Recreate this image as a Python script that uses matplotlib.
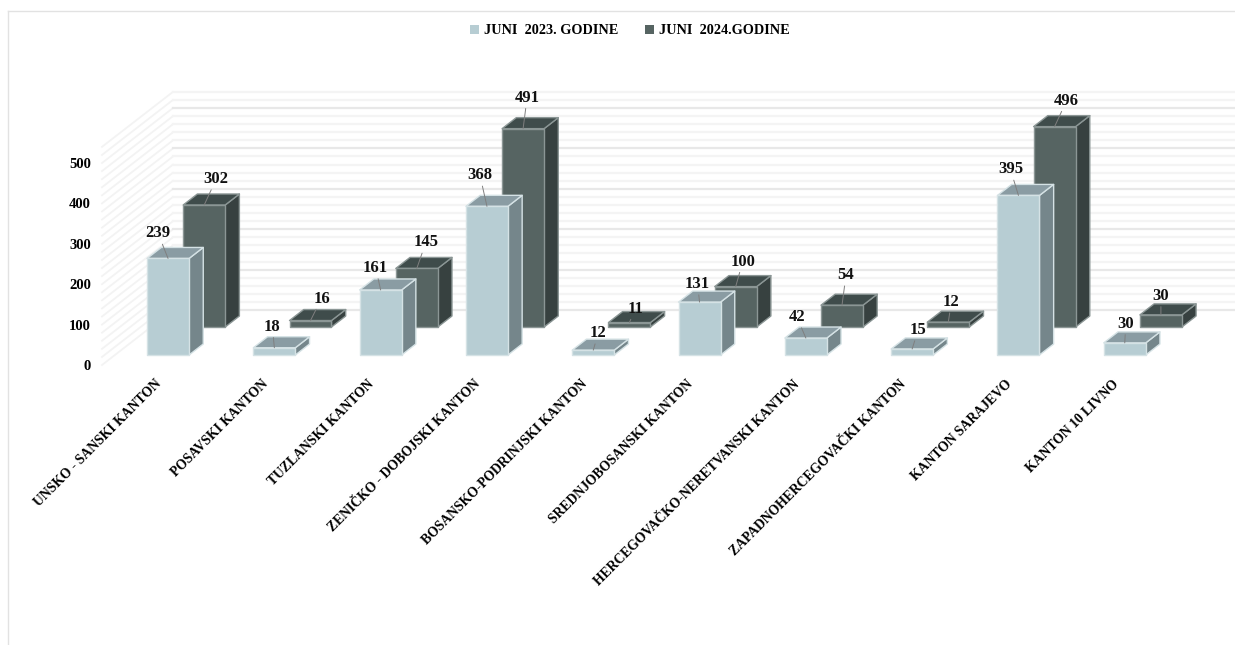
import matplotlib
matplotlib.use('Agg')
import matplotlib.pyplot as plt
from matplotlib.patches import Polygon, Patch

# data
cantons = ['UNSKO - SANSKI KANTON', 'POSAVSKI KANTON', 'TUZLANSKI KANTON',
           'ZENIČKO - DOBOJSKI KANTON', 'BOSANSKO-PODRINJSKI KANTON',
           'SREDNJOBOSANSKI KANTON', 'HERCEGOVAČKO-NERETVANSKI KANTON',
           'ZAPADNOHERCEGOVAČKI KANTON', 'KANTON SARAJEVO', 'KANTON 10 LIVNO']
juni_2023 = [239, 18, 161, 368, 12, 131, 42, 15, 395, 30]
juni_2024 = [302, 16, 145, 491, 11, 100, 54, 12, 496, 30]
series_names = ['JUNI  2023. GODINE', 'JUNI  2024.GODINE']
y_ticks = [0, 100, 200, 300, 400, 500]

# label offsets from the top edge of each bar, in pixels
offsets_2023 = [(-10, 25), (-2, 21), (-5, 22), (-7, 31), (5, 17),
                (-2, 18), (-9, 21), (6, 19), (-8, 26), (1, 19)]
offsets_2024 = [(12, 26), (11, 22), (9, 26), (4, 31), (6, 14),
                (7, 25), (4, 30), (3, 20), (12, 26), (0, 19)]

W, H = 1235, 645
plt.rcParams['font.family'] = ['Liberation Serif', 'DejaVu Serif']
plt.rcParams['font.weight'] = 'bold'

fig = plt.figure(figsize=(W / 100, H / 100), dpi=100)
PX_PER_CAT = 106.3
PX_PER_UNIT = 0.404
YMAX = 540
ax = fig.add_axes([102 / W, (H - 365) / H, 10 * PX_PER_CAT / W, YMAX * PX_PER_UNIT / H])
ax.set_xlim(-0.5, 9.5)
ax.set_ylim(0, YMAX)
for s in ax.spines.values():
    s.set_visible(False)
ax.patch.set_visible(False)

# depth axis: d=0 is the front of the floor, d=1 the back wall
DX = 71 / PX_PER_CAT
DY = 55 / PX_PER_UNIT


def proj(x, v, d):
    return x + d * DX, v + d * DY


# walls
for v in range(0, YMAX + 1, 20):
    col = '#e8e8e8' if v % 100 == 0 else '#f4f4f4'
    p0 = proj(-0.5, v, 0)
    p1 = proj(-0.5, v, 1)
    p2 = proj(9.5, v, 1)
    ax.plot([p0[0], p1[0]], [p0[1], p1[1]], color='#f3f3f3', lw=1.3, clip_on=False, zorder=1)
    ax.plot([p1[0], p2[0]], [p1[1], p2[1]], color=col, lw=1.6, clip_on=False, zorder=1)


def draw_box(i, value, d0, d1, colors, edge, width=0.395, z=2):
    x0, x1 = i - width / 2, i + width / 2
    front, top, side = colors
    faces = [
        ([proj(x1, 0, d0), proj(x1, 0, d1), proj(x1, value, d1), proj(x1, value, d0)], side),
        ([proj(x0, value, d0), proj(x1, value, d0), proj(x1, value, d1), proj(x0, value, d1)], top),
        ([proj(x0, 0, d0), proj(x1, 0, d0), proj(x1, value, d0), proj(x0, value, d0)], front),
    ]
    for pts, c in faces:
        ax.add_patch(Polygon(pts, closed=True, facecolor=c, edgecolor=edge, lw=1.0,
                             joinstyle='round', clip_on=False, zorder=z))


light = ('#b7cdd3', '#8a9ca3', '#75868b')
dark = ('#566462', '#3f4c4b', '#374140')
D_FRONT = (10 / 55, 21 / 55)
D_BACK = (38 / 55, 49 / 55)

for i, v in enumerate(juni_2024):
    draw_box(i, v, D_BACK[0], D_BACK[1], dark, '#8b9695', z=2)
for i, v in enumerate(juni_2023):
    draw_box(i, v, D_FRONT[0], D_FRONT[1], light, '#d5e2e5', z=3)

# data labels with leader lines
for vals, offs, d in ((juni_2024, offsets_2024, D_BACK[0]), (juni_2023, offsets_2023, D_FRONT[0])):
    for i, (v, off) in enumerate(zip(vals, offs)):
        ax.annotate(str(v), xy=proj(i, v, d), xytext=off, textcoords='offset pixels',
                    ha='center', va='center', fontsize=12, color='#111111', zorder=6,
                    annotation_clip=False,
                    arrowprops=dict(arrowstyle='-', color='#7f7f7f', lw=0.7, shrinkA=0, shrinkB=0))

# axes text
ax.set_yticks(y_ticks)
ax.set_xticks(range(len(cantons)))
ax.set_xticklabels(cantons, rotation=45, ha='right', va='top', rotation_mode='anchor', fontsize=9.8)
ax.tick_params(axis='x', length=0, pad=9)
ax.tick_params(axis='y', length=0, pad=8, labelsize=10.5)

handles = [Patch(facecolor=light[0], label=series_names[0]), Patch(facecolor=dark[0], label=series_names[1])]
fig.legend(handles=handles, loc='center', bbox_to_anchor=(630 / W, 1 - 31 / H), ncol=2, frameon=False,
           fontsize=10.3, handlelength=0.6, handleheight=0.6, handletextpad=0.35, columnspacing=1.9)

# chart frame
fig.add_artist(plt.Line2D([7.5 / W, 7.5 / W], [0, 1 - 10.5 / H], color='#e2e2e2', lw=1))
fig.add_artist(plt.Line2D([7.5 / W, 1], [1 - 10.5 / H, 1 - 10.5 / H], color='#e2e2e2', lw=1))

fig.savefig('out.png', dpi=100)
